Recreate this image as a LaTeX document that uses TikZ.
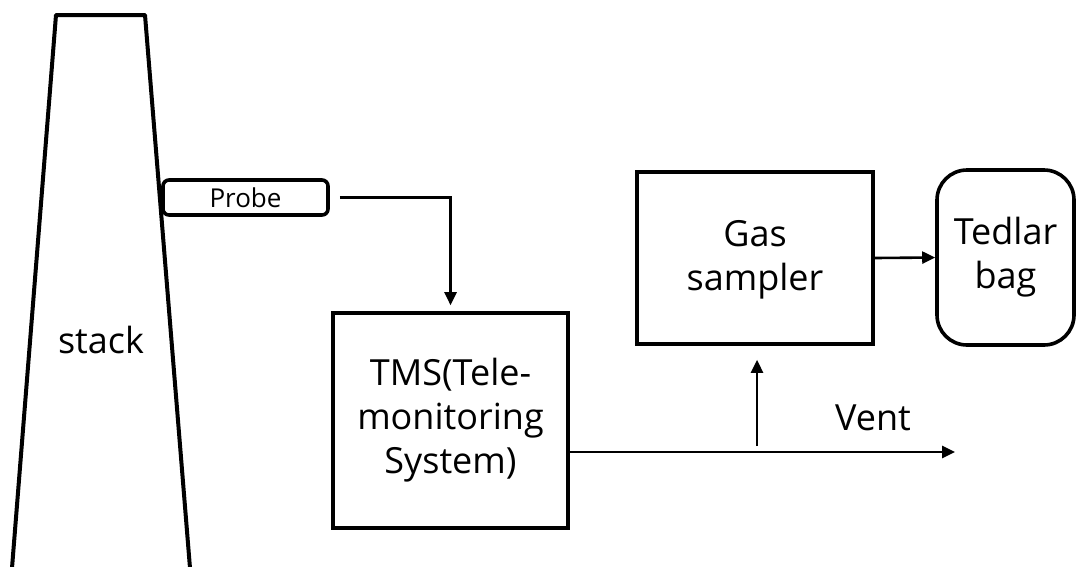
\documentclass[tikz,border=0pt]{standalone}
\usepackage{fontspec}
\setmainfont{Open Sans}
\usetikzlibrary{arrows.meta,calc}
\begin{document}
\begin{tikzpicture}[x=1pt,y=-1pt,
  box/.style={draw,line width=3.6pt,inner sep=0pt,align=center,font=\fontsize{36}{44}\selectfont},
  arr/.style={line width=2.6pt,-{Triangle[length=13pt,width=12pt]}},
  big/.style={font=\fontsize{36}{44}\selectfont,inner sep=0pt}]
\useasboundingbox (0,0) rectangle (1076,566);
% stack
\coordinate (s1) at (12,568);
\coordinate (s2) at (56,15);
\coordinate (s3) at (145,15);
\coordinate (s4) at (190,568);
\draw[line width=4pt,line join=round] (s1) -- (s2) -- (s3) -- (s4);
\node[big] (stacklbl) at (101,340) {stack};
% probe
\node[draw,line width=3.6pt,rounded corners=6pt,minimum width=165pt,minimum height=35pt,inner sep=0pt,font=\fontsize{26}{30}\selectfont] (probe) at (245.5,197.5) {Probe};
% TMS
\node[box,minimum width=235pt,minimum height=215pt] (tms) at (450.5,420.5) {TMS(Tele-\\monitoring\\System)};
% gas sampler
\node[box,minimum width=236pt,minimum height=172pt] (gas) at (755,258) {\raisebox{0pt}[30pt][0pt]{}Gas\\sampler};
% tedlar bag
\node[box,rounded corners=30pt,minimum width=137pt,minimum height=175pt] (bag) at (1005.5,257.5) {Tedlar\\bag};
% connectors
\draw[arr,shorten >=6pt] ([xshift=10pt]probe.east) -| (tms.north);
\coordinate (v0) at ([yshift=-31.5pt]tms.east);
\coordinate (v1) at (955,452);
\draw[arr] (v0) -- (v1);
\node[big] (vent) at (873,418) {Vent};
\coordinate (b0) at (757,446);
\draw[arr,shorten >=14pt] (b0) -- (b0 |- gas.south);
\draw[arr] (gas.east) -- (bag.west);
\end{tikzpicture}
\end{document}
